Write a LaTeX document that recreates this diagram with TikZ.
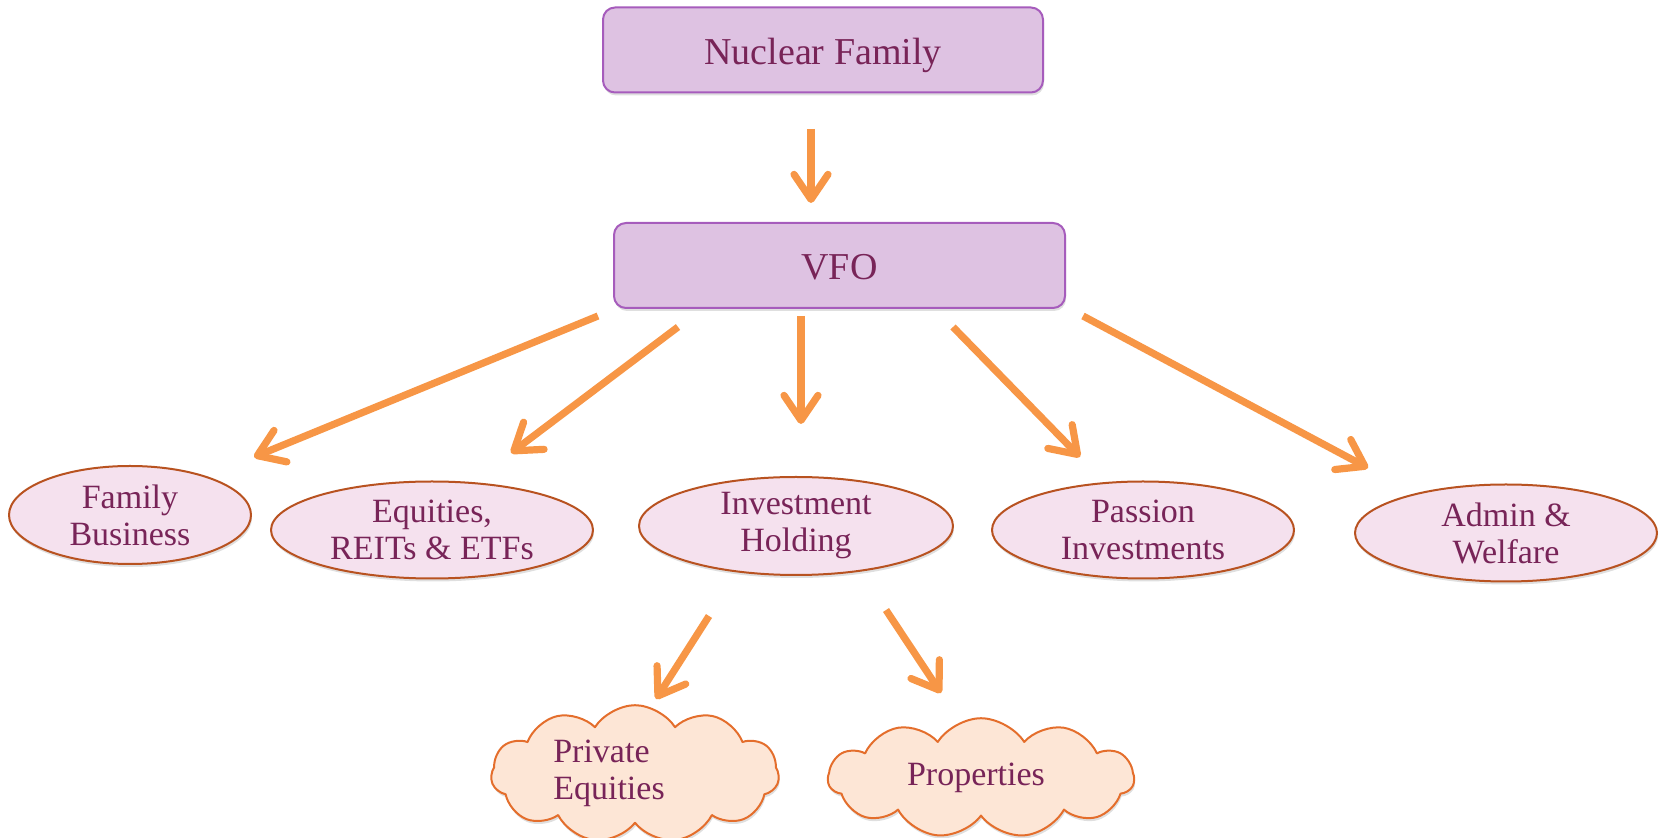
\documentclass[tikz,border=0pt]{standalone}
\usepackage{fontspec}
\setmainfont{Liberation Serif}
\usetikzlibrary{arrows.meta,shapes.geometric,shapes.symbols,shadows}
\definecolor{plum}{RGB}{120,36,88}
\definecolor{boxfill}{RGB}{222,194,226}
\definecolor{boxline}{RGB}{166,92,188}
\definecolor{ellfill}{RGB}{245,225,238}
\definecolor{ellline}{RGB}{184,82,32}
\definecolor{cloudfill}{RGB}{253,230,214}
\definecolor{cloudline}{RGB}{228,110,44}
\definecolor{arrcol}{RGB}{247,150,70}
\tikzset{
  softshadow/.style={drop shadow={opacity=0.25,shadow xshift=0.5pt,shadow yshift=-1.5pt}},
  topbox/.style={rounded corners=6pt,draw=boxline,fill=boxfill,line width=1pt,
    minimum height=42.5pt,text height=17.5pt,text depth=3pt,
    font=\fontsize{19}{22}\selectfont,softshadow},
  ell/.style={ellipse,draw=ellline,fill=ellfill,line width=1pt,inner sep=0pt,
    align=center,softshadow},
  cld/.style={cloud,cloud puffs=11,cloud puff arc=115,aspect=2.3,draw=cloudline,
    fill=cloudfill,line width=1pt,inner sep=0pt,align=left,softshadow},
  arr/.style={draw=arrcol,line width=3.6pt,-{Straight Barb[length=12.5pt,width=17pt,round]}}
}
\begin{document}
\begin{tikzpicture}[x=0.5pt,y=-0.5pt,line join=round,text=plum,
  font=\fontsize{17}{18.5}\selectfont]
  \useasboundingbox (0,0) rectangle (1660,838);
  % boxes
  \node[topbox,minimum width=220pt] (nuc) at (823,50) {Nuclear Family};
  \node[topbox,minimum width=225.5pt] (vfo) at (839.5,265.5) {VFO};
  % ellipses
  \node[ell,minimum width=121pt,minimum height=49pt] (fam) at (130,515) {Family\\Business};
  \node[ell,minimum width=161pt,minimum height=48.5pt] (equ) at (432,530) {Equities,\\REITs \& ETFs};
  \node[ell,minimum width=157pt,minimum height=49pt] (inv) at (796,526) {Investment\\Holding};
  \node[ell,minimum width=151pt,minimum height=48.5pt] (pas) at (1143,530) {Passion\\Investments};
  \node[ell,minimum width=151pt,minimum height=48.5pt] (adm) at (1506,533) {Admin \&\\Welfare};
  % clouds
  \node[cld,minimum width=144pt,minimum height=56pt] (pri) at (635,774)
    {\begin{tabular}{@{}l@{\hspace{26pt}}}Private\\Equities\end{tabular}};
  \node[cld,minimum width=153pt,minimum height=59pt] (pro) at (981,778) {Properties\hspace{5pt}};
  % arrow ends
  \coordinate (nucS) at (811,129);  \coordinate (vfoN) at (811,203);
  \coordinate (famS) at (598,316);  \coordinate (famE) at (254,457);
  \coordinate (equS) at (678,327);  \coordinate (equE) at (511,453);
  \coordinate (invS) at (801,316);  \coordinate (invE) at (801,424);
  \coordinate (pasS) at (953,327);  \coordinate (pasE) at (1080,457);
  \coordinate (admS) at (1083,316); \coordinate (admE) at (1368,468);
  \coordinate (priS) at (709,616);  \coordinate (priE) at (656,699);
  \coordinate (proS) at (886,610);  \coordinate (proE) at (941,693);
  \draw[arr] (nucS) -- (vfoN);
  \draw[arr] (famS) -- (famE);
  \draw[arr] (equS) -- (equE);
  \draw[arr] (invS) -- (invE);
  \draw[arr] (pasS) -- (pasE);
  \draw[arr] (admS) -- (admE);
  \draw[arr] (priS) -- (priE);
  \draw[arr] (proS) -- (proE);
\end{tikzpicture}
\end{document}
